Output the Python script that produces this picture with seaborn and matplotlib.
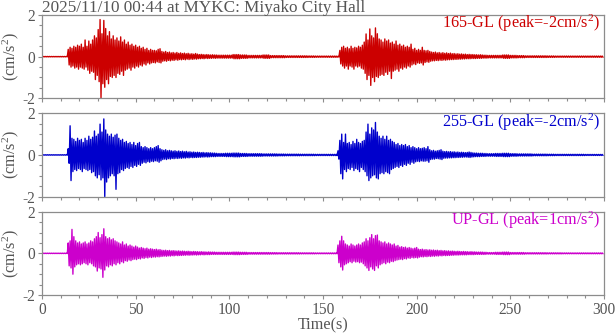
import numpy as np
import pandas as pd
import matplotlib
matplotlib.use("Agg")
import matplotlib.pyplot as plt
import seaborn as sns
from matplotlib.ticker import MultipleLocator

# ---------------------------------------------------------------------------
# Acceleration records, MYKC (Miyako City Hall), 2025/11/10 00:44
# Per-second positive (UP) and negative (LO) peak amplitudes, cm/s^2.
# Event windows cover t = 14..93 s and t = 158..237 s (80 s each);
# quiet tails are given as 4-second peak levels.
# ---------------------------------------------------------------------------
title = "2025/11/10 00:44 at MYKC: Miyako City Hall"
components = ["165-GL", "255-GL", "UP-GL"]
colors = ["#cc0000", "#0000cc", "#cc00cc"]
pre_noise = [0.01, 0.01, 0.01]

# ---- 165-GL ----
ns_ev1_up = [0.35, 0.45, 0.40, 0.50, 0.45, 0.55, 0.50, 0.60, 0.45, 0.80,
             0.50, 0.75, 0.60, 0.80, 1.00, 0.90, 1.30, 1.78, 1.10, 1.74,
             1.35, 1.00, 1.20, 0.85, 1.00, 0.80, 0.90, 0.75, 0.95, 0.70,
             0.80, 0.60, 0.70, 0.55, 0.60, 0.50, 0.55, 0.45, 0.50, 0.40,
             0.45, 0.35, 0.40, 0.30, 0.35, 0.30, 0.30, 0.28, 0.35, 0.38,
             0.25, 0.22, 0.25, 0.20, 0.22, 0.18, 0.20, 0.17, 0.20, 0.16,
             0.18, 0.15, 0.17, 0.14, 0.16, 0.13, 0.14, 0.12, 0.15, 0.12,
             0.10, 0.11, 0.10, 0.09, 0.10, 0.09, 0.08, 0.09, 0.08, 0.08]
ns_ev1_lo = [0.40, 0.50, 0.45, 0.55, 0.50, 0.60, 0.50, 0.55, 0.60, 0.50,
             0.65, 0.80, 0.70, 0.75, 1.10, 0.90, 1.20, 1.98, 1.30, 1.47,
             1.10, 1.30, 0.95, 1.00, 0.90, 1.00, 0.80, 0.85, 0.70, 0.90,
             0.65, 0.60, 0.55, 0.65, 0.50, 0.55, 0.45, 0.50, 0.40, 0.45,
             0.35, 0.40, 0.30, 0.35, 0.30, 0.28, 0.30, 0.25, 0.28, 0.30,
             0.22, 0.20, 0.22, 0.18, 0.20, 0.17, 0.18, 0.15, 0.17, 0.14,
             0.15, 0.13, 0.15, 0.12, 0.14, 0.12, 0.13, 0.11, 0.12, 0.10,
             0.10, 0.09, 0.10, 0.08, 0.09, 0.08, 0.08, 0.07, 0.08, 0.07]
ns_tail1 = [0.07, 0.07, 0.10, 0.08, 0.06, 0.06, 0.08, 0.05,
            0.05, 0.04, 0.04, 0.04, 0.035, 0.03, 0.03, 0.03]
ns_ev2_up = [0.02, 0.30, 0.45, 0.50, 0.40, 0.45, 0.38, 0.50, 0.40, 0.45,
             0.42, 0.50, 0.45, 0.55, 0.70, 1.09, 0.80, 1.33, 1.00, 0.90,
             1.38, 1.10, 0.85, 0.80, 0.70, 0.85, 0.75, 0.80, 0.65, 0.70,
             0.60, 0.75, 0.55, 0.60, 0.50, 0.55, 0.45, 0.50, 0.45, 0.60,
             0.35, 0.40, 0.30, 0.35, 0.30, 0.45, 0.30, 0.28, 0.30, 0.25,
             0.22, 0.20, 0.22, 0.18, 0.20, 0.17, 0.19, 0.16, 0.18, 0.15,
             0.17, 0.14, 0.15, 0.13, 0.14, 0.12, 0.13, 0.11, 0.12, 0.10,
             0.11, 0.10, 0.10, 0.09, 0.09, 0.08, 0.09, 0.08, 0.07, 0.07]
ns_ev2_lo = [0.02, 0.35, 0.45, 0.55, 0.45, 0.60, 0.45, 0.50, 0.60, 0.45,
             0.50, 0.45, 0.55, 0.60, 0.80, 1.10, 0.90, 1.38, 1.00, 1.20,
             0.95, 1.00, 0.90, 0.85, 0.90, 0.75, 0.85, 0.70, 1.05, 0.70,
             0.65, 0.60, 0.70, 0.55, 0.60, 0.50, 0.55, 0.45, 0.50, 0.40,
             0.35, 0.38, 0.30, 0.32, 0.30, 0.40, 0.28, 0.25, 0.27, 0.22,
             0.20, 0.20, 0.18, 0.19, 0.17, 0.18, 0.16, 0.17, 0.15, 0.15,
             0.14, 0.14, 0.13, 0.13, 0.12, 0.12, 0.11, 0.11, 0.10, 0.10,
             0.10, 0.09, 0.09, 0.09, 0.08, 0.08, 0.08, 0.07, 0.07, 0.07]
ns_tail2 = [0.06, 0.06, 0.08, 0.06, 0.05, 0.04, 0.04, 0.04,
            0.035, 0.03, 0.03, 0.03, 0.03, 0.03, 0.03, 0.03]

# ---- 255-GL ----
ew_ev1_up = [0.30, 1.40, 0.80, 0.75, 0.65, 0.80, 0.70, 0.75, 0.60, 0.80,
             0.70, 0.90, 0.75, 0.85, 1.15, 0.90, 1.00, 1.48, 1.10, 1.73,
             1.20, 1.00, 0.90, 1.00, 0.85, 0.95, 1.00, 0.80, 0.70, 0.75,
             0.60, 0.65, 0.55, 0.60, 0.50, 0.60, 0.45, 0.55, 0.60, 0.40,
             0.35, 0.40, 0.35, 0.30, 0.35, 0.30, 0.35, 0.40, 0.45, 0.30,
             0.25, 0.22, 0.25, 0.20, 0.22, 0.20, 0.18, 0.20, 0.17, 0.19,
             0.16, 0.18, 0.15, 0.17, 0.14, 0.15, 0.13, 0.14, 0.12, 0.13,
             0.12, 0.11, 0.12, 0.10, 0.11, 0.10, 0.10, 0.09, 0.09, 0.08]
ew_ev1_lo = [0.40, 1.23, 0.80, 0.70, 0.75, 0.65, 0.70, 0.80, 0.65, 0.70,
             0.75, 0.70, 0.85, 0.80, 1.00, 1.10, 0.95, 1.20, 1.10, 2.00,
             1.30, 1.10, 1.00, 0.90, 1.00, 1.65, 0.90, 0.85, 0.70, 0.75,
             0.65, 0.60, 0.65, 0.55, 0.60, 0.50, 0.55, 0.45, 0.50, 0.40,
             0.35, 0.38, 0.32, 0.35, 0.30, 0.32, 0.28, 0.30, 0.35, 0.28,
             0.22, 0.20, 0.22, 0.18, 0.20, 0.17, 0.18, 0.16, 0.17, 0.15,
             0.16, 0.14, 0.15, 0.13, 0.14, 0.12, 0.13, 0.12, 0.12, 0.11,
             0.11, 0.10, 0.10, 0.09, 0.10, 0.09, 0.08, 0.08, 0.08, 0.07]
ew_tail1 = [0.07, 0.08, 0.09, 0.07, 0.06, 0.06, 0.05, 0.05,
            0.045, 0.04, 0.04, 0.035, 0.035, 0.03, 0.03, 0.03]
ew_ev2_up = [0.20, 0.70, 1.00, 0.60, 1.00, 0.55, 0.60, 0.50, 0.65, 0.55,
             0.75, 0.60, 0.55, 0.65, 0.70, 1.10, 1.48, 1.00, 1.30, 1.20,
             1.56, 1.10, 0.90, 0.80, 0.90, 0.75, 0.90, 0.70, 0.75, 0.65,
             0.60, 0.50, 0.55, 0.45, 0.50, 0.45, 0.50, 0.40, 0.45, 0.35,
             0.40, 0.35, 0.30, 0.35, 0.30, 0.32, 0.35, 0.30, 0.40, 0.25,
             0.20, 0.22, 0.18, 0.20, 0.22, 0.25, 0.18, 0.16, 0.17, 0.15,
             0.16, 0.14, 0.15, 0.13, 0.14, 0.12, 0.13, 0.12, 0.11, 0.12,
             0.14, 0.12, 0.10, 0.09, 0.09, 0.08, 0.08, 0.08, 0.07, 0.07]
ew_ev2_lo = [0.20, 0.90, 1.15, 0.70, 0.80, 0.65, 0.70, 0.60, 0.75, 0.65,
             0.70, 0.80, 0.60, 0.70, 0.80, 1.00, 1.23, 1.10, 1.00, 0.95,
             1.10, 1.15, 0.90, 0.85, 0.90, 0.80, 0.85, 0.90, 0.70, 0.65,
             0.60, 0.55, 0.60, 0.50, 0.55, 0.45, 0.50, 0.40, 0.45, 0.35,
             0.40, 0.33, 0.30, 0.32, 0.28, 0.30, 0.30, 0.28, 0.35, 0.22,
             0.20, 0.20, 0.17, 0.18, 0.20, 0.22, 0.16, 0.15, 0.15, 0.14,
             0.14, 0.13, 0.13, 0.12, 0.12, 0.11, 0.11, 0.10, 0.10, 0.11,
             0.12, 0.10, 0.09, 0.08, 0.08, 0.08, 0.07, 0.07, 0.07, 0.06]
ew_tail2 = [0.06, 0.07, 0.08, 0.06, 0.05, 0.05, 0.04, 0.04,
            0.035, 0.03, 0.03, 0.03, 0.03, 0.025, 0.025, 0.025]

# ---- UP-GL ----
ud_ev1_up = [0.50, 0.60, 1.15, 0.80, 0.60, 0.50, 0.55, 0.45, 0.50, 0.55,
             0.45, 0.50, 0.60, 0.55, 0.70, 0.80, 1.00, 0.75, 0.90, 1.18,
             0.80, 0.70, 0.75, 0.65, 0.70, 0.60, 0.55, 0.50, 0.45, 0.55,
             0.40, 0.45, 0.35, 0.40, 0.35, 0.30, 0.35, 0.30, 0.25, 0.28,
             0.25, 0.22, 0.25, 0.20, 0.22, 0.20, 0.18, 0.20, 0.17, 0.18,
             0.15, 0.14, 0.15, 0.13, 0.14, 0.12, 0.13, 0.12, 0.11, 0.12,
             0.10, 0.11, 0.10, 0.09, 0.10, 0.09, 0.08, 0.09, 0.08, 0.08,
             0.07, 0.08, 0.07, 0.07, 0.06, 0.07, 0.06, 0.06, 0.06, 0.05]
ud_ev1_lo = [0.60, 0.70, 1.00, 0.65, 0.55, 0.50, 0.55, 0.50, 0.45, 0.50,
             0.55, 0.45, 0.50, 0.60, 0.65, 0.85, 0.70, 0.75, 1.15, 0.80,
             0.60, 0.65, 0.55, 0.60, 0.50, 0.55, 0.45, 0.50, 0.40, 0.45,
             0.35, 0.38, 0.32, 0.35, 0.30, 0.28, 0.30, 0.25, 0.27, 0.22,
             0.24, 0.20, 0.22, 0.18, 0.20, 0.17, 0.18, 0.16, 0.17, 0.15,
             0.14, 0.13, 0.14, 0.12, 0.13, 0.11, 0.12, 0.10, 0.11, 0.10,
             0.10, 0.09, 0.09, 0.08, 0.09, 0.08, 0.08, 0.07, 0.08, 0.07,
             0.07, 0.06, 0.07, 0.06, 0.06, 0.06, 0.05, 0.05, 0.05, 0.05]
ud_tail1 = [0.05, 0.05, 0.06, 0.05, 0.04, 0.04, 0.04, 0.035,
            0.03, 0.03, 0.03, 0.025, 0.025, 0.02, 0.02, 0.02]
ud_ev2_up = [0.40, 0.60, 0.82, 0.60, 0.45, 0.40, 0.35, 0.45, 0.40, 0.35,
             0.40, 0.45, 0.40, 0.50, 0.55, 0.70, 0.60, 0.75, 0.90, 0.70,
             0.85, 0.88, 0.60, 0.55, 0.50, 0.55, 0.45, 0.50, 0.45, 0.40,
             0.45, 0.35, 0.38, 0.30, 0.32, 0.28, 0.30, 0.25, 0.28, 0.25,
             0.22, 0.25, 0.28, 0.20, 0.18, 0.20, 0.17, 0.18, 0.16, 0.17,
             0.15, 0.16, 0.14, 0.15, 0.13, 0.14, 0.12, 0.13, 0.11, 0.12,
             0.10, 0.11, 0.10, 0.09, 0.10, 0.09, 0.08, 0.09, 0.08, 0.08,
             0.07, 0.08, 0.07, 0.07, 0.06, 0.06, 0.06, 0.06, 0.05, 0.05]
ud_ev2_lo = [0.45, 0.65, 0.80, 0.55, 0.50, 0.45, 0.40, 0.45, 0.38, 0.42,
             0.40, 0.45, 0.42, 0.50, 0.60, 0.70, 0.82, 0.65, 0.75, 0.82,
             0.60, 0.70, 0.55, 0.50, 0.45, 0.50, 0.42, 0.45, 0.38, 0.40,
             0.35, 0.32, 0.30, 0.28, 0.30, 0.25, 0.27, 0.22, 0.24, 0.20,
             0.22, 0.20, 0.22, 0.18, 0.16, 0.17, 0.15, 0.16, 0.14, 0.15,
             0.13, 0.14, 0.12, 0.13, 0.11, 0.12, 0.10, 0.11, 0.10, 0.10,
             0.09, 0.09, 0.08, 0.08, 0.08, 0.07, 0.07, 0.07, 0.07, 0.06,
             0.06, 0.06, 0.06, 0.05, 0.05, 0.05, 0.05, 0.05, 0.05, 0.04]
ud_tail2 = [0.04, 0.05, 0.06, 0.04, 0.04, 0.03, 0.03, 0.03,
            0.025, 0.025, 0.02, 0.02, 0.02, 0.02, 0.02, 0.02]

DURATION = 300


def assemble(pre, ev1_up, ev1_lo, tail1, ev2_up, ev2_lo, tail2):
    """Join the per-second peak lists into an alternating +/- trace."""
    tail1 = np.repeat(tail1, 4)
    tail2 = np.repeat(tail2, 4)
    head = np.full(14, pre)
    up = np.concatenate([head, ev1_up, tail1, ev2_up, tail2])[:DURATION]
    lo = np.concatenate([head, ev1_lo, tail1, ev2_lo, tail2])[:DURATION]
    sec = np.arange(len(up), dtype=float)
    time = np.column_stack([sec, sec + 0.5]).ravel()
    acc = np.column_stack([up, -lo]).ravel()
    return pd.DataFrame({"time": time, "acc": acc})


records = [
    assemble(pre_noise[0], ns_ev1_up, ns_ev1_lo, ns_tail1, ns_ev2_up, ns_ev2_lo, ns_tail2),
    assemble(pre_noise[1], ew_ev1_up, ew_ev1_lo, ew_tail1, ew_ev2_up, ew_ev2_lo, ew_tail2),
    assemble(pre_noise[2], ud_ev1_up, ud_ev1_lo, ud_tail1, ud_ev2_up, ud_ev2_lo, ud_tail2),
]

# ---------------------------------------------------------------------------
sns.set_style("ticks")
plt.rcParams["font.family"] = ["Liberation Serif", "DejaVu Serif"]
plt.rcParams["mathtext.fontset"] = "custom"
plt.rcParams["mathtext.rm"] = "Liberation Serif"
plt.rcParams["mathtext.it"] = "Liberation Serif:italic"
plt.rcParams["axes.unicode_minus"] = False

FIG_W, FIG_H = 616, 334
fig = plt.figure(figsize=(FIG_W / 100, FIG_H / 100), dpi=100)

frame_col = "#8c8c8c"
text_col = "#555555"
left_px, right_px = 42, 604
tops_px = [15.0, 113.3, 211.7]
panel_h = 83.3
axw_px = right_px - left_px
TXT = 11.7

for i, (df, comp, col) in enumerate(zip(records, components, colors)):
    top = tops_px[i]
    ax = fig.add_axes([left_px / FIG_W, 1 - (top + panel_h) / FIG_H,
                       axw_px / FIG_W, panel_h / FIG_H])
    sns.lineplot(data=df, x="time", y="acc", ax=ax, color=col, lw=1.0,
                 estimator=None, sort=False)
    ax.set_xlim(0, DURATION)
    ax.set_ylim(-2, 2)
    ax.set_yticks([-2, 0, 2])
    ax.yaxis.set_minor_locator(MultipleLocator(0.5))
    ax.xaxis.set_major_locator(MultipleLocator(50))
    ax.xaxis.set_minor_locator(MultipleLocator(10))
    for sp in ax.spines.values():
        sp.set_visible(True)
        sp.set_color(frame_col)
        sp.set_linewidth(0.9)
    ax.tick_params(which="both", direction="out", color=frame_col,
                   labelcolor=text_col, labelsize=11.2, width=0.8,
                   top=False, right=False)
    ax.tick_params(which="major", length=3.2, pad=2)
    ax.tick_params(which="minor", length=2.2)
    ax.set_ylabel("(cm/s$^2$)", color=text_col, fontsize=TXT, va="center")
    ax.yaxis.set_label_coords((11 - left_px) / axw_px, 0.5)
    ax.set_xlabel("")
    if i < 2:
        ax.tick_params(labelbottom=False)
    else:
        ax.set_xlabel("Time(s)", color=text_col, fontsize=TXT, va="baseline")
        ax.xaxis.set_label_coords(0.5, -(329.5 - (top + panel_h)) / panel_h)

    peak = df["acc"].iloc[int(np.argmax(np.abs(df["acc"].to_numpy())))]
    ax.text((600 - left_px) / axw_px, 1 - 13.5 / panel_h,
            f"{comp} (peak={peak:.0f}cm/s$^2$)", color=col,
            fontsize=TXT, ha="right", va="baseline", transform=ax.transAxes)

fig.text(left_px / FIG_W, 1 - 12 / FIG_H, title, color=text_col, fontsize=12.3,
         ha="left", va="baseline")

fig.savefig("out.png", dpi=100)
